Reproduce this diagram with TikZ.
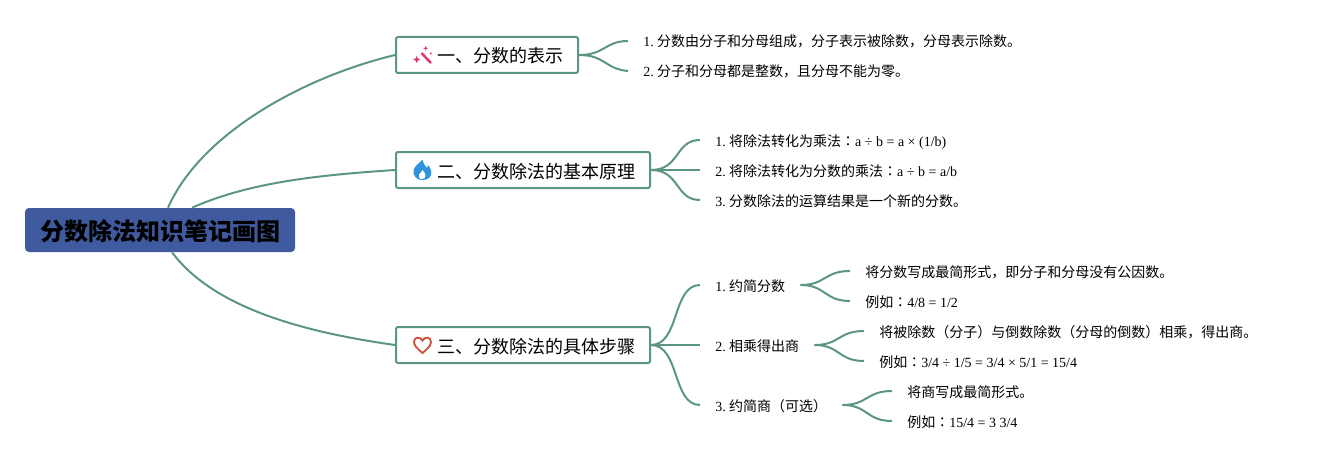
\documentclass[tikz,border=0pt]{standalone}
\usepackage{fontspec}
\setmainfont{Liberation Serif}
\newfontfamily\cjk{Noto Sans CJK SC}
\newfontfamily\cjktc{Noto Sans CJK TC}
\newcommand{\zh}[1]{{\cjk #1}}
\newcommand{\colonzh}{{\cjktc ：}}
\definecolor{linkgreen}{HTML}{5B9680}
\definecolor{rootblue}{HTML}{3F5A9E}
\definecolor{wandpink}{HTML}{E8306A}
\definecolor{flameblue}{HTML}{2E93DE}
\definecolor{heartred}{HTML}{D0533F}
\tikzset{
	rootbox/.style={fill=rootblue, rounded corners=3pt, minimum width=202.5pt, minimum height=33pt, inner sep=0pt, text height=17pt, text depth=1pt, font=\fontsize{18}{22}\selectfont\bfseries},
	branchbox/.style={draw=linkgreen, line width=1.5pt, fill=white, rounded corners=1.5pt, minimum height=27pt, inner xsep=11.25pt, inner ysep=0pt, anchor=west, text height=13pt, text depth=1pt, font=\fontsize{13.5}{16}\selectfont},
	leaf/.style={anchor=west, inner xsep=11.25pt, inner ysep=0pt, text height=11pt, text depth=2pt, font=\fontsize{10.5}{13}\selectfont},
	link/.style={draw=linkgreen, line width=1.5pt}
}
\begin{document}
\begin{tikzpicture}[x=0.75pt, y=-0.75pt]
	\useasboundingbox (0,0) rectangle (1317,460);

	% root and the three branches
	\node [rootbox] (root) at (160,230) {\zh{分数除法知识笔记画图}};
	\node [branchbox] (one) at (395,55) {\hspace*{19.5pt}\zh{一、分数的表示}};
	\node [branchbox] (two) at (395,170) {\hspace*{19.5pt}\zh{二、分数除法的基本原理}};
	\node [branchbox] (three) at (395,345) {\hspace*{19.5pt}\zh{三、分数除法的具体步骤}};

	\draw [link] ([xshift=6pt]root.north) .. controls (200,135) and (300,78) .. (one.west);
	\draw [link] ([xshift=24pt]root.north) .. controls (250,182) and (320,175) .. (two.west);
	\draw [link] ([xshift=9pt]root.south) .. controls (215,310) and (310,333) .. (three.west);

	% first branch
	\node [leaf] (one a) at (628,41) {1.\kern2.6pt\zh{分数由分子和分母组成，分子表示被除数，分母表示除数。}};
	\node [leaf] (one b) at (628,71) {2.\kern2.6pt\zh{分子和分母都是整数，且分母不能为零。}};
	\draw [link] (one.east) .. controls (605,55) and (605,41) .. (one a.west);
	\draw [link] (one.east) .. controls (605,55) and (605,69) .. (one b.west);

	% second branch
	\node [leaf] (two a) at (700,140) {1.\kern2.6pt\zh{将除法转化为乘法}\colonzh a ÷ b = a × (1/b)};
	\node [leaf] (two b) at (700,170) {2.\kern2.6pt\zh{将除法转化为分数的乘法}\colonzh a ÷ b = a/b};
	\node [leaf] (two c) at (700,200) {3.\kern2.6pt\zh{分数除法的运算结果是一个新的分数。}};
	\draw [link] (two.east) .. controls (680,170) and (675,140) .. (two a.west);
	\draw [link] (two.east) -- (two b.west);
	\draw [link] (two.east) .. controls (680,170) and (675,200) .. (two c.west);

	% third branch
	\node [leaf] (step a) at (700,285) {1.\kern2.6pt\zh{约简分数}};
	\node [leaf] (step b) at (700,345) {2.\kern2.6pt\zh{相乘得出商}};
	\node [leaf] (step c) at (700,405) {3.\kern2.6pt\zh{约简商（可选）}};
	\draw [link] (three.east) .. controls (680,345) and (672,285) .. (step a.west);
	\draw [link] (three.east) -- (step b.west);
	\draw [link] (three.east) .. controls (680,345) and (672,405) .. (step c.west);

	\node [leaf] (a note) at (850,271) {\zh{将分数写成最简形式，即分子和分母没有公因数。}};
	\node [leaf] (a eg) at (850,301) {\zh{例如}\colonzh 4/8 = 1/2};
	\draw [link] (step a.east) .. controls (826,285) and (824,271) .. (a note.west);
	\draw [link] (step a.east) .. controls (826,285) and (824,301) .. (a eg.west);

	\node [leaf] (b note) at (864,331) {\zh{将被除数（分子）与倒数除数（分母的倒数）相乘，得出商。}};
	\node [leaf] (b eg) at (864,361) {\zh{例如}\colonzh 3/4 ÷ 1/5 = 3/4 × 5/1 = 15/4};
	\draw [link] (step b.east) .. controls (840,345) and (838,331) .. (b note.west);
	\draw [link] (step b.east) .. controls (840,345) and (838,361) .. (b eg.west);

	\node [leaf] (c note) at (892,391) {\zh{将商写成最简形式。}};
	\node [leaf] (c eg) at (892,421) {\zh{例如}\colonzh 15/4 = 3 3/4};
	\draw [link] (step c.east) .. controls (868,405) and (866,391) .. (c note.west);
	\draw [link] (step c.east) .. controls (868,405) and (866,421) .. (c eg.west);

	% icons
	\draw [color=wandpink, line width=1.8pt] (421.5,53) -- (431,63);
	\fill [color=wandpink] (416.7,56) -- (417.8,58.4) -- (420.2,59.5) -- (417.8,60.6) -- (416.7,63) -- (415.6,60.6) -- (413.2,59.5) -- (415.6,58.4) -- cycle;
	\fill [color=wandpink] (425.7,46) -- (426.4,47.6) -- (428,48.3) -- (426.4,49) -- (425.7,50.6) -- (425,49) -- (423.4,48.3) -- (425,47.6) -- cycle;
	\fill [color=wandpink] (430.7,53.5) circle (1.2);

	\fill [color=flameblue] (422,180) .. controls (416,180) and (413,175) .. (413.5,171) .. controls (414,167) and (417,165) .. (419,163) .. controls (421,161) and (422,160) .. (423,160) .. controls (423,164) and (425,165) .. (427,168) .. controls (427.5,167) and (428,166) .. (428,165) .. controls (430.5,168) and (432,172) .. (431,175) .. controls (430,178) and (427,180) .. (422,180) -- cycle;
	\fill [color=white] (422,179) .. controls (419,179) and (418,176) .. (419,174.5) .. controls (420,173) and (422,172) .. (422.5,170) .. controls (424,172) and (426,174) .. (425.5,176) .. controls (425,178) and (424,179) .. (422,179) -- cycle;

	\draw [color=heartred, line width=1.4pt] (422.5,353) .. controls (418,349) and (414,346) .. (414,342) .. controls (414,337) and (420,336) .. (422.5,340.5) .. controls (425,336) and (431,337) .. (431,342) .. controls (431,346) and (427,349) .. (422.5,353) -- cycle;
\end{tikzpicture}
\end{document}
